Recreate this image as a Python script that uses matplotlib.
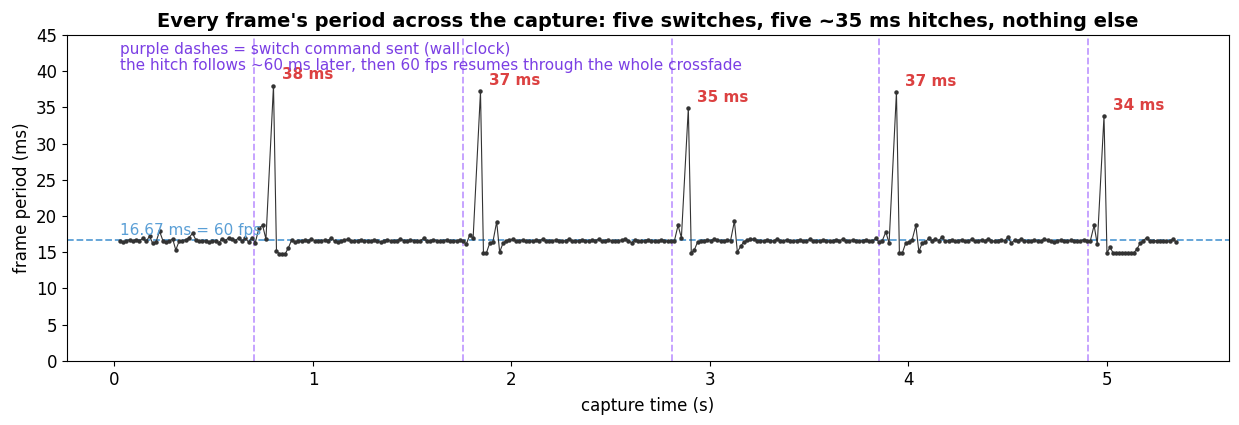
import numpy as np
import matplotlib
matplotlib.use("Agg")
import matplotlib.pyplot as plt

# ---- data (frame periods in ms, in capture order) ----
seg_a = [16.5, 16.4, 16.6, 16.7, 16.6, 16.7, 16.6, 16.9, 16.5, 17.2,
         16.2, 16.4, 17.9, 16.6, 16.4, 16.6, 16.8, 15.3, 16.5, 16.6,
         16.7, 17.0, 17.6, 16.7, 16.6, 16.5, 16.6, 16.4, 16.6, 16.5,
         16.3, 16.8, 16.6, 17.0, 16.8, 16.6, 17.0, 16.5, 16.9, 16.4,
         17.0, 16.3, 18.3, 18.7, 16.8]
seg_b = [15.1, 14.8, 14.8, 14.8, 15.6,
         16.7, 16.4, 16.6, 16.5, 16.7, 16.6, 16.8, 16.6, 16.5, 16.6,
         16.7, 16.6, 17.0, 16.5, 16.4, 16.6, 16.7, 16.8, 16.6, 16.5,
         16.6, 16.7, 16.5, 16.6, 16.6, 16.7, 16.5, 16.4, 16.6, 16.7,
         16.6, 16.5, 16.6, 16.8, 16.6, 16.5, 16.7, 16.6, 16.5, 16.6,
         16.9, 16.5, 16.6, 16.7, 16.6, 16.5, 16.6, 16.7, 16.6, 16.5,
         16.6, 16.7, 16.5,
         16.1, 17.4, 16.9]
seg_c = [14.9, 14.9, 16.2, 16.4, 19.2, 15.0, 16.2, 16.6,
         16.7, 16.8, 16.6, 16.5, 16.7, 16.6, 16.6, 16.5, 16.7, 16.6,
         16.8, 16.6, 16.5, 16.6, 16.7, 16.6, 16.5, 16.6, 16.8, 16.6,
         16.5, 16.6, 16.7, 16.6, 16.5, 16.7, 16.6, 16.8, 16.5, 16.6,
         16.7, 16.6, 16.5, 16.6, 16.7, 16.8, 16.6, 16.3, 16.7, 16.6,
         16.5, 16.6, 16.7, 16.6, 16.5, 16.6, 16.7, 16.6, 16.5, 16.6,
         16.5, 18.7, 17.0]
seg_d = [14.9, 15.3, 16.4,
         16.5, 16.6, 16.7, 16.6, 16.8, 16.7, 16.5, 16.6, 16.7, 16.6,
         19.3, 15.0, 15.8, 16.4, 16.7,
         16.8, 16.8, 16.6, 16.5, 16.6, 16.7, 16.5, 16.6, 16.8, 16.6,
         16.5, 16.7, 16.6, 16.5, 16.6, 16.7, 16.6, 16.5, 16.8, 16.6,
         16.5, 16.6, 16.7, 16.6, 16.5, 16.6, 16.7, 16.6, 16.8, 16.5,
         16.6, 16.7, 16.6, 16.5, 16.6, 16.7, 16.6, 16.5,
         16.9, 16.4, 16.6, 17.8, 16.2]
seg_e = [14.9, 14.9, 16.2, 16.4, 16.7, 18.7, 15.1, 16.2, 16.4, 16.9,
         16.6, 16.8, 16.6, 17.1, 16.5, 16.6, 16.7, 16.5, 16.6, 16.7,
         16.6, 16.5, 16.8, 16.6, 16.5, 16.7, 16.6, 16.8, 16.6, 16.5,
         16.6, 16.7, 16.6, 17.1, 16.2, 16.7, 16.6, 16.8, 16.6, 16.5,
         16.6, 16.7, 16.5, 16.6, 16.8, 16.7, 16.5, 16.4, 16.6, 16.7,
         16.6, 16.5, 16.7, 16.6, 16.5, 16.6, 16.7, 16.6,
         16.6, 18.7, 16.1]
seg_f = [14.9, 15.7, 14.9, 14.9, 14.9, 14.9, 14.9, 14.9, 14.9, 14.9,
         15.4, 16.2, 16.6, 17.0, 16.5, 16.6, 16.6, 16.5, 16.6, 16.6,
         16.5, 16.8, 16.4]
hitch_ms = [38.0, 37.2, 34.9, 37.1, 33.8]
switch_times_s = [0.702, 1.758, 2.808, 3.854, 4.904]
capture_start_s = 0.010
target_ms = 16.67

segments = [seg_a, seg_b, seg_c, seg_d, seg_e, seg_f]
periods = []
hitch_idx = []
for i, seg in enumerate(segments):
    periods.extend(seg)
    if i < len(hitch_ms):
        hitch_idx.append(len(periods))
        periods.append(hitch_ms[i])
periods = np.array(periods)
times = capture_start_s + np.cumsum(periods) / 1000.0

# ---- plot ----
fig, ax = plt.subplots(figsize=(12.39, 4.25), dpi=100)
fig.subplots_adjust(left=0.054, right=0.992, top=0.918, bottom=0.151)

ax.axhline(target_ms, color="#5a9fd6", linestyle="--", linewidth=1.3, zorder=1)
for st in switch_times_s:
    ax.axvline(st, color="#c29cff", linestyle="--", linewidth=1.3, zorder=1)

ax.plot(times, periods, color="#333333", linewidth=0.8, marker="o",
        markersize=2.2, zorder=3)

for idx in hitch_idx:
    ax.text(times[idx] + 0.045, periods[idx] + 1.5, f"{periods[idx]:.0f} ms",
            color="#dc4141", fontsize=11, fontweight="bold",
            ha="left", va="center")

ax.text(0.03, target_ms + 0.3, "16.67 ms = 60 fps", color="#5a9fd6",
        fontsize=11, ha="left", va="bottom")
ax.text(0.03, 44.0,
        "purple dashes = switch command sent (wall clock)\n"
        "the hitch follows ~60 ms later, then 60 fps resumes through the whole crossfade",
        color="#7b3fe4", fontsize=11, ha="left", va="top", linespacing=1.05)

ax.set_ylim(0, 45)
ax.set_xlabel("capture time (s)", fontsize=12, labelpad=6)
ax.set_ylabel("frame period (ms)", fontsize=12)
ax.tick_params(labelsize=12)
ax.set_title("Every frame's period across the capture: five switches, five ~35 ms hitches, nothing else",
             fontsize=14, fontweight="bold")

fig.savefig("out.png", dpi=100)
